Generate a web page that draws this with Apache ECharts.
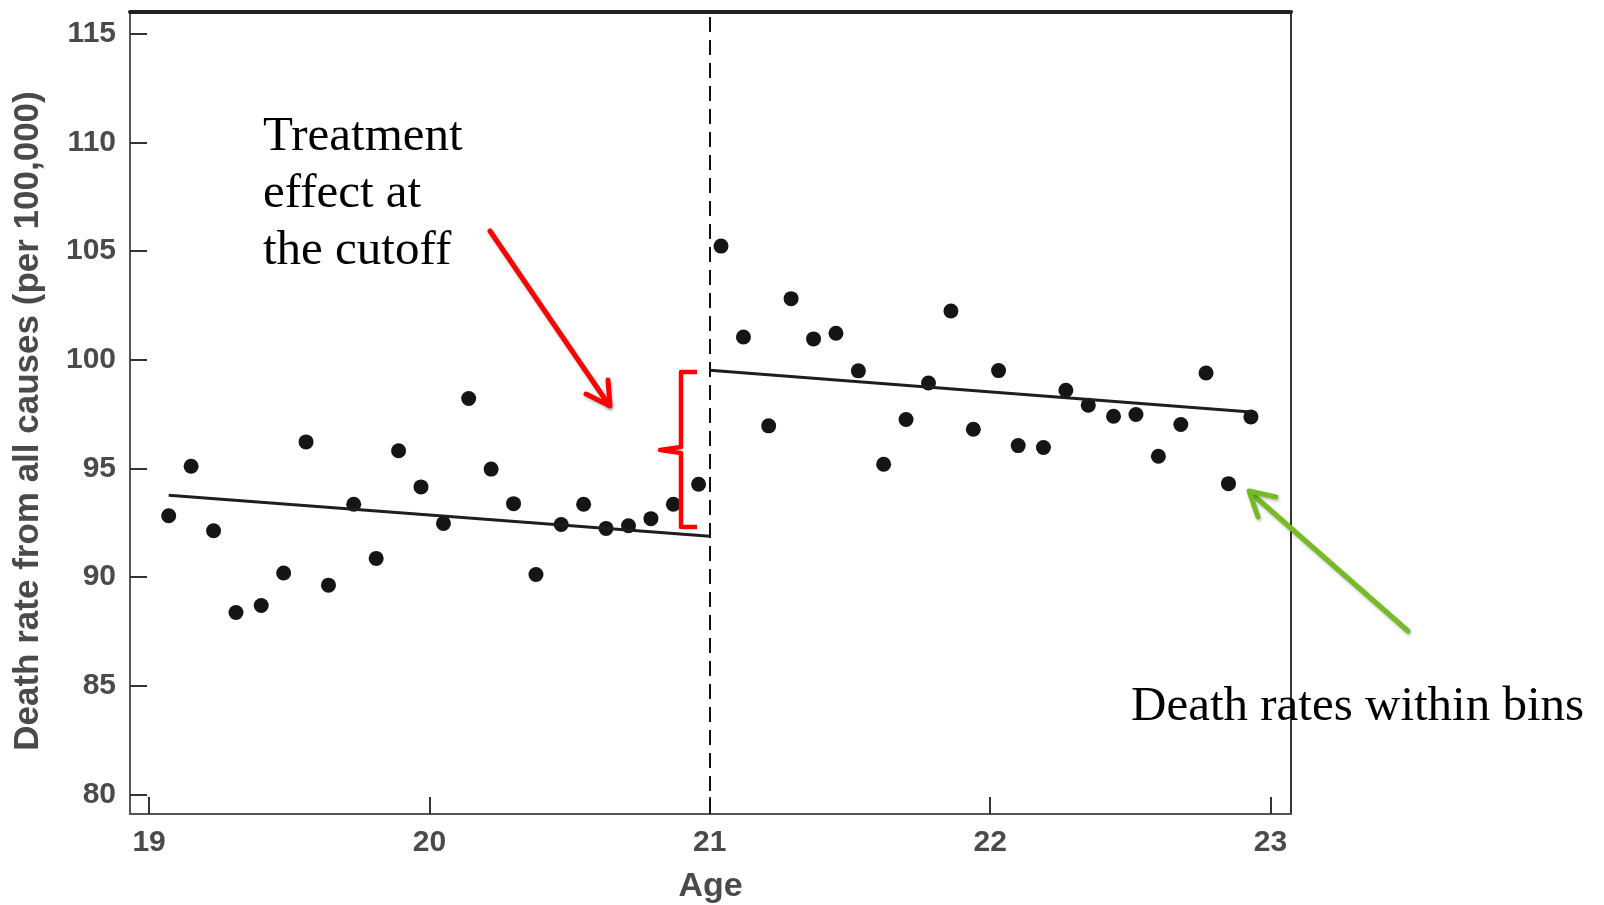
<!DOCTYPE html>
<html lang="en">
<head>
  <meta charset="UTF-8">
  <title>Death rate by age</title>
  <script src="https://cdn.jsdelivr.net/npm/echarts@6.0.0/dist/echarts.min.js"></script>
  <style>
    html, body { margin: 0; padding: 0; background: #fff; }
    #main { width: 1604px; height: 905px; }
  </style>
</head>
<body>
  <div id="main"></div>
  <script>
    // bins before the cutoff (age < 21)
    const leftAge = [19.07, 19.15, 19.23, 19.31, 19.40, 19.48, 19.56, 19.64, 19.73, 19.81, 19.89, 19.97,
                     20.05, 20.14, 20.22, 20.30, 20.38, 20.47, 20.55, 20.63, 20.71, 20.79, 20.87, 20.96]
    const leftRate = [92.82, 95.10, 92.13, 88.37, 88.69, 90.19, 96.22, 89.63, 93.35, 90.86, 95.81, 94.15,
                      92.47, 98.22, 94.97, 93.38, 90.12, 92.42, 93.35, 92.24, 92.36, 92.69, 93.35, 94.27]
    // bins after the cutoff
    const rightAge = [21.04, 21.12, 21.21, 21.29, 21.37, 21.45, 21.53, 21.62, 21.70, 21.78, 21.86, 21.94,
                      22.03, 22.10, 22.19, 22.27, 22.35, 22.44, 22.52, 22.60, 22.68, 22.77, 22.85, 22.93]
    const rightRate = [105.23, 101.05, 96.96, 102.81, 100.96, 101.22, 99.49, 95.19, 97.25, 98.93, 102.24, 96.80,
                       99.50, 96.05, 95.96, 98.60, 97.91, 97.40, 97.48, 95.56, 97.02, 99.39, 94.30, 97.37]
    // fitted lines (end points)
    const fitLeftAge = [19.07, 21.0]
    const fitLeftRate = [93.77, 91.88]
    const fitRightAge = [21.0, 22.93]
    const fitRightRate = [99.52, 97.60]
    const cutoff = 21

    const ageTicks = [19, 20, 21, 22, 23]
    const rateTicks = [80, 85, 90, 95, 100, 105, 110, 115]

    const sans = '"Liberation Sans", Arial, Helvetica, sans-serif'
    const serif = '"Liberation Serif", "Times New Roman", serif'
    const labelGray = '#4a4a4a'

    const zip = (xs, ys) => xs.map((x, i) => [x, ys[i]])

    const chart = echarts.init(document.getElementById('main'))

    const boxAxis = (position, color, width) => ({
      type: 'value',
      position: position,
      axisLine: { show: true, onZero: false, lineStyle: { color: color, width: width } },
      axisTick: { show: false },
      axisLabel: { show: false },
      splitLine: { show: false }
    })

    const arrowStyle = color => ({
      stroke: color, lineWidth: 5, fill: null, lineJoin: 'round', lineCap: 'round',
      shadowBlur: 3, shadowColor: 'rgba(0,0,0,0.25)', shadowOffsetX: 1, shadowOffsetY: 2
    })

    const option = {
      animation: false,
      backgroundColor: '#fff',
      // keep the plot box fixed, labels may sit near the edge
      grid: { left: 130, right: 313, top: 12, bottom: 91, containLabel: false, outerBoundsMode: 'none' },
      xAxis: [
        {
          type: 'value',
          min: 18.932,
          max: 23.073,
          position: 'bottom',
          name: 'Age',
          nameLocation: 'middle',
          nameGap: 56,
          nameTextStyle: { fontSize: 34, color: labelGray, fontWeight: 'bold', fontFamily: sans },
          axisLine: { show: true, onZero: false, lineStyle: { color: '#555', width: 2 } },
          axisTick: { show: true, inside: true, length: 17, customValues: ageTicks, lineStyle: { color: '#333', width: 2 } },
          axisLabel: { customValues: ageTicks, fontSize: 30, color: labelGray, fontWeight: 'bold', margin: 14, fontFamily: sans },
          splitLine: { show: false }
        },
        Object.assign(boxAxis('top', '#222', 4), { min: 18.932, max: 23.073 })
      ],
      yAxis: [
        {
          type: 'value',
          min: 79.1,
          max: 116,
          position: 'left',
          name: 'Death rate from all causes (per 100,000)',
          nameLocation: 'middle',
          nameGap: 84,
          nameTextStyle: { fontSize: 35, color: labelGray, fontWeight: 'bold', fontFamily: sans, padding: [0, 16, 0, 0] },
          axisLine: { show: true, onZero: false, lineStyle: { color: '#555', width: 2 } },
          axisTick: { show: true, inside: true, length: 17, customValues: rateTicks, lineStyle: { color: '#333', width: 2 } },
          axisLabel: { customValues: rateTicks, fontSize: 30, color: labelGray, fontWeight: 'bold', margin: 14, fontFamily: sans },
          splitLine: { show: false }
        },
        Object.assign(boxAxis('right', '#333', 2), { min: 79.1, max: 116 })
      ],
      series: [
        {
          type: 'scatter',
          data: zip(leftAge, leftRate),
          symbolSize: 15,
          itemStyle: { color: '#151515', opacity: 1 },
          markLine: {
            silent: true,
            symbol: ['none', 'none'],
            label: { show: false },
            lineStyle: { type: [15, 8], color: '#111', width: 2, opacity: 1 },
            data: [{ xAxis: cutoff }]
          }
        },
        {
          type: 'scatter',
          data: zip(rightAge, rightRate),
          symbolSize: 15,
          itemStyle: { color: '#151515', opacity: 1 }
        },
        {
          type: 'line',
          data: zip(fitLeftAge, fitLeftRate),
          showSymbol: false,
          lineStyle: { color: '#1e1e1e', width: 3 }
        },
        {
          type: 'line',
          data: zip(fitRightAge, fitRightRate),
          showSymbol: false,
          lineStyle: { color: '#1e1e1e', width: 3 }
        }
      ],
      graphic: [
        {
          type: 'text',
          z: 100,
          style: {
            x: 263, y: 109,
            text: 'Treatment\neffect at\nthe cutoff',
            fontSize: 49, fontFamily: serif, lineHeight: 57,
            fill: '#000', verticalAlign: 'top'
          }
        },
        {
          type: 'text',
          z: 100,
          style: {
            x: 1131, y: 679,
            text: 'Death rates within bins',
            fontSize: 49, fontFamily: serif, lineHeight: 57,
            fill: '#000', verticalAlign: 'top'
          }
        },
        // red arrow
        { type: 'line', z: 100, shape: { x1: 490, y1: 231, x2: 609, y2: 405 }, style: arrowStyle('#ff0000') },
        { type: 'polyline', z: 100, shape: { points: [[586, 394], [610, 406], [608, 380]] }, style: arrowStyle('#ff0000') },
        // bracket
        {
          type: 'polyline', z: 100,
          shape: { points: [[697, 372], [681, 372], [681, 447], [660, 450], [681, 453], [681, 527], [697, 527]] },
          style: { stroke: '#ff0000', lineWidth: 4.5, fill: null, lineJoin: 'round' }
        },
        // green arrow
        { type: 'line', z: 100, shape: { x1: 1408, y1: 631, x2: 1251, y2: 493 }, style: arrowStyle('#76bb23') },
        { type: 'polyline', z: 100, shape: { points: [[1276, 497], [1249, 491], [1258, 517]] }, style: arrowStyle('#76bb23') }
      ]
    }

    chart.setOption(option)
  </script>
</body>
</html>
